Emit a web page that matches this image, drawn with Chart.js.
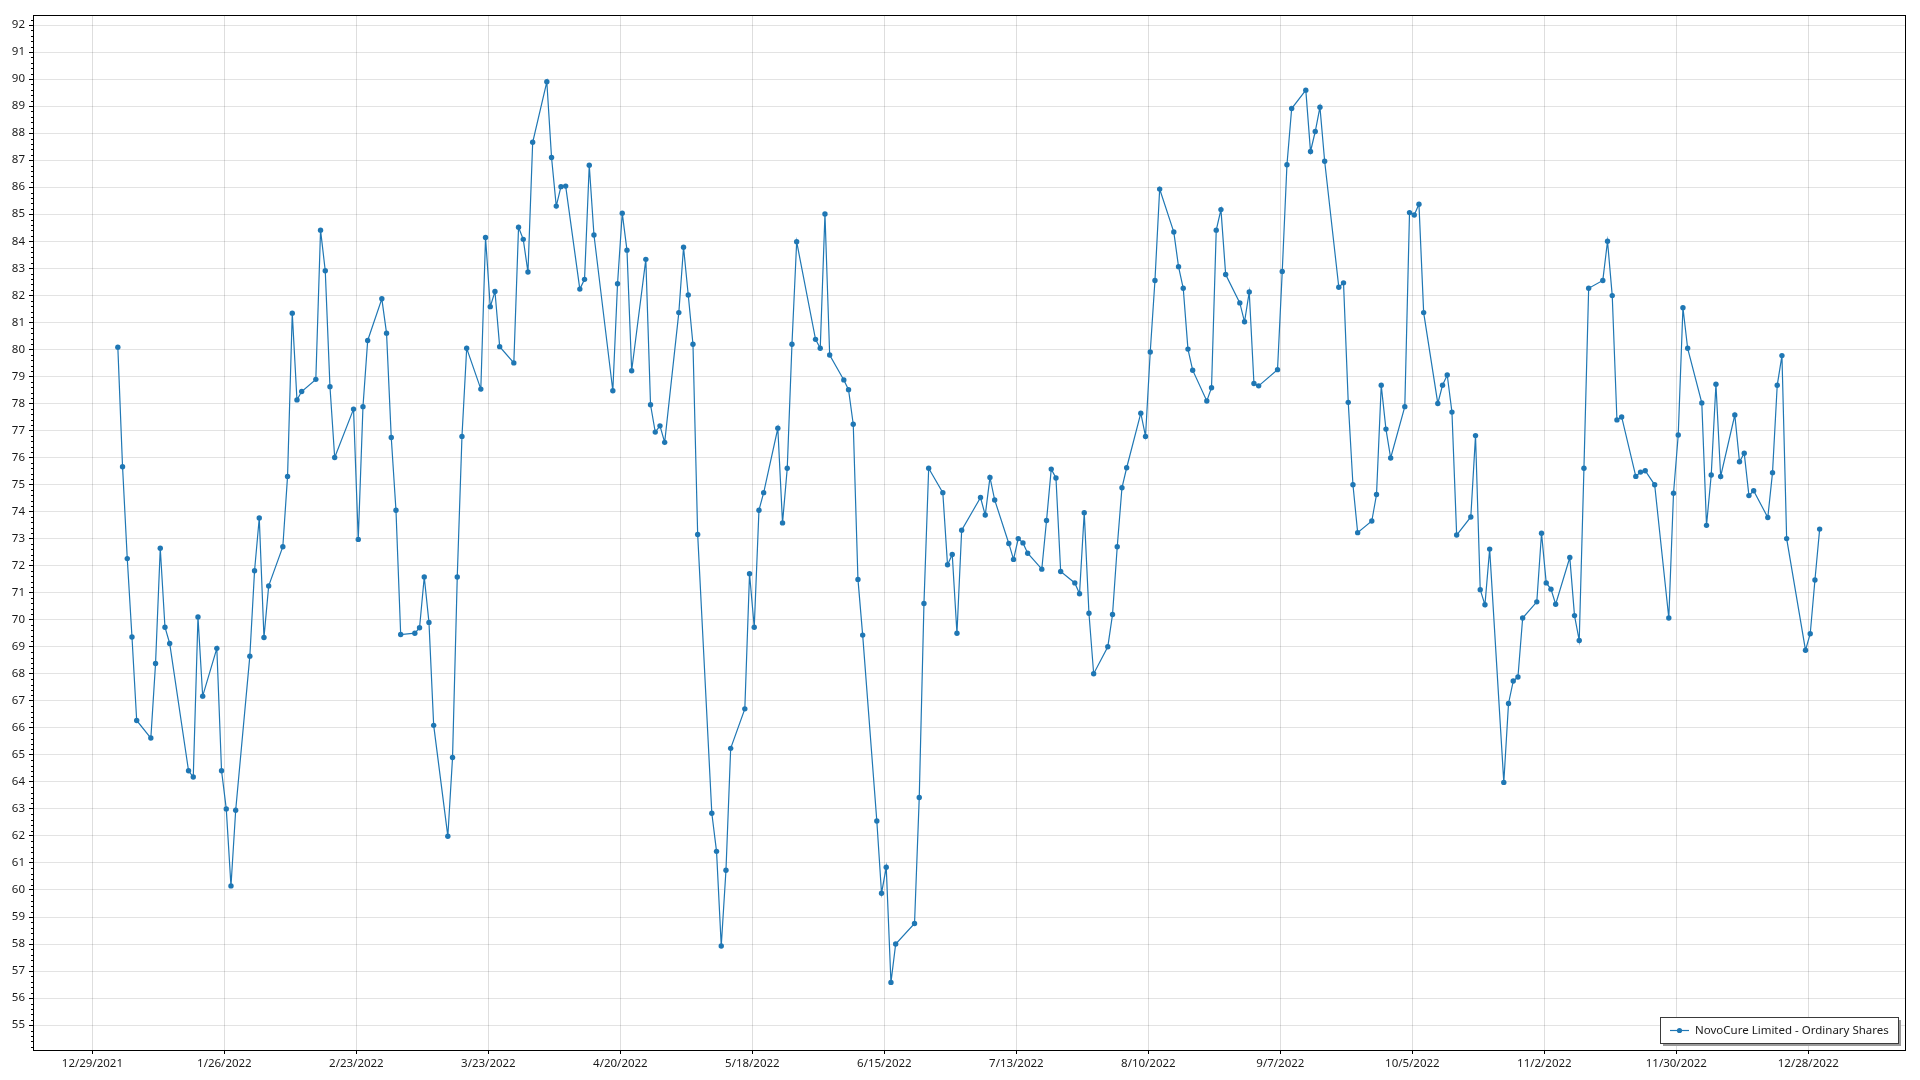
<!DOCTYPE html>
<html>
<head>
<meta charset="utf-8">
<title>NovoCure Limited - Ordinary Shares</title>
<script src="https://cdn.jsdelivr.net/npm/chart.js@4.4.1/dist/chart.umd.min.js"></script>
<style>
  html, body { margin: 0; padding: 0; background: #fff; }
  canvas { display: block; }
</style>
</head>
<body>
<canvas id="chart" width="1920" height="1080"></canvas>
<script>
const seriesLabel = "NovoCure Limited - Ordinary Shares";

// trading days, 2022
const dates = [
  "1/3/2022","1/4/2022","1/5/2022","1/6/2022","1/7/2022","1/10/2022","1/11/2022","1/12/2022","1/13/2022","1/14/2022",
  "1/18/2022","1/19/2022","1/20/2022","1/21/2022","1/24/2022","1/25/2022","1/26/2022","1/27/2022","1/28/2022","1/31/2022",
  "2/1/2022","2/2/2022","2/3/2022","2/4/2022","2/7/2022","2/8/2022","2/9/2022","2/10/2022","2/11/2022","2/14/2022",
  "2/15/2022","2/16/2022","2/17/2022","2/18/2022","2/22/2022","2/23/2022","2/24/2022","2/25/2022","2/28/2022",
  "3/1/2022","3/2/2022","3/3/2022","3/4/2022","3/7/2022","3/8/2022","3/9/2022","3/10/2022","3/11/2022","3/14/2022",
  "3/15/2022","3/16/2022","3/17/2022","3/18/2022","3/21/2022","3/22/2022","3/23/2022","3/24/2022","3/25/2022","3/28/2022",
  "3/29/2022","3/30/2022","3/31/2022",
  "4/1/2022","4/4/2022","4/5/2022","4/6/2022","4/7/2022","4/8/2022","4/11/2022","4/12/2022","4/13/2022","4/14/2022",
  "4/18/2022","4/19/2022","4/20/2022","4/21/2022","4/22/2022","4/25/2022","4/26/2022","4/27/2022","4/28/2022","4/29/2022",
  "5/2/2022","5/3/2022","5/4/2022","5/5/2022","5/6/2022","5/9/2022","5/10/2022","5/11/2022","5/12/2022","5/13/2022",
  "5/16/2022","5/17/2022","5/18/2022","5/19/2022","5/20/2022","5/23/2022","5/24/2022","5/25/2022","5/26/2022","5/27/2022",
  "5/31/2022",
  "6/1/2022","6/2/2022","6/3/2022","6/6/2022","6/7/2022","6/8/2022","6/9/2022","6/10/2022","6/13/2022","6/14/2022",
  "6/15/2022","6/16/2022","6/17/2022","6/21/2022","6/22/2022","6/23/2022","6/24/2022","6/27/2022","6/28/2022","6/29/2022",
  "6/30/2022",
  "7/1/2022","7/5/2022","7/6/2022","7/7/2022","7/8/2022","7/11/2022","7/12/2022","7/13/2022","7/14/2022","7/15/2022",
  "7/18/2022","7/19/2022","7/20/2022","7/21/2022","7/22/2022","7/25/2022","7/26/2022","7/27/2022","7/28/2022","7/29/2022",
  "8/1/2022","8/2/2022","8/3/2022","8/4/2022","8/5/2022","8/8/2022","8/9/2022","8/10/2022","8/11/2022","8/12/2022",
  "8/15/2022","8/16/2022","8/17/2022","8/18/2022","8/19/2022","8/22/2022","8/23/2022","8/24/2022","8/25/2022","8/26/2022",
  "8/29/2022","8/30/2022","8/31/2022",
  "9/1/2022","9/2/2022","9/6/2022","9/7/2022","9/8/2022","9/9/2022","9/12/2022","9/13/2022","9/14/2022","9/15/2022",
  "9/16/2022","9/19/2022","9/20/2022","9/21/2022","9/22/2022","9/23/2022","9/26/2022","9/27/2022","9/28/2022","9/29/2022",
  "9/30/2022",
  "10/3/2022","10/4/2022","10/5/2022","10/6/2022","10/7/2022","10/10/2022","10/11/2022","10/12/2022","10/13/2022","10/14/2022",
  "10/17/2022","10/18/2022","10/19/2022","10/20/2022","10/21/2022","10/24/2022","10/25/2022","10/26/2022","10/27/2022","10/28/2022",
  "10/31/2022",
  "11/1/2022","11/2/2022","11/3/2022","11/4/2022","11/7/2022","11/8/2022","11/9/2022","11/10/2022","11/11/2022","11/14/2022",
  "11/15/2022","11/16/2022","11/17/2022","11/18/2022","11/21/2022","11/22/2022","11/23/2022","11/25/2022","11/28/2022","11/29/2022",
  "11/30/2022",
  "12/1/2022","12/2/2022","12/5/2022","12/6/2022","12/7/2022","12/8/2022","12/9/2022","12/12/2022","12/13/2022","12/14/2022",
  "12/15/2022","12/16/2022","12/19/2022","12/20/2022","12/21/2022","12/22/2022","12/23/2022","12/27/2022","12/28/2022","12/29/2022",
  "12/30/2022"
];

const closes = [
  80.08,75.66,72.26,69.36,66.27,65.62,68.38,72.64,69.72,69.12,
  64.41,64.18,70.10,67.17,68.94,64.41,63.00,60.15,62.95,68.65,
  71.81,73.76,69.34,71.25,72.70,75.30,81.34,78.13,78.44,78.89,
  84.41,82.91,78.62,76.00,77.79,72.97,77.88,80.33,81.87,
  80.60,76.74,74.05,69.45,69.50,69.70,71.58,69.90,66.09,61.99,
  64.90,71.58,76.78,80.04,78.53,84.14,81.58,82.14,80.10,79.50,
  84.52,84.07,82.86,
  87.66,89.90,87.10,85.30,86.02,86.04,82.23,82.59,86.81,84.23,
  78.47,82.43,85.04,83.67,79.21,83.33,77.95,76.94,77.17,76.56,
  81.36,83.78,82.01,80.19,73.15,62.84,61.43,57.93,60.73,65.24,
  66.70,71.70,69.72,74.05,74.70,77.08,73.58,75.60,80.19,83.98,
  80.37,
  80.04,85.01,79.79,78.87,78.51,77.23,71.49,69.43,62.55,59.88,
  60.84,56.58,58.00,58.76,63.42,70.60,75.60,74.70,72.03,72.41,
  69.50,
  73.31,74.52,73.87,75.26,74.43,72.82,72.23,73.00,72.84,72.46,
  71.87,73.67,75.57,75.24,71.78,71.36,70.96,73.96,70.24,68.00,
  69.00,70.19,72.70,74.88,75.62,77.64,76.78,79.90,82.55,85.93,
  84.34,83.06,82.26,80.01,79.23,78.09,78.58,84.41,85.17,82.77,
  81.72,81.02,82.12,
  78.74,78.65,79.25,82.88,86.83,88.91,89.59,87.32,88.06,88.96,
  86.96,82.30,82.46,78.04,74.99,73.22,73.65,74.63,78.67,77.05,
  75.98,
  77.88,85.06,84.97,85.37,81.36,78.00,78.67,79.05,77.68,73.13,
  73.80,76.81,71.11,70.55,72.61,63.98,66.90,67.73,67.88,70.06,
  70.66,
  73.20,71.36,71.13,70.57,72.30,70.15,69.23,75.60,82.26,82.55,
  84.00,81.99,77.39,77.50,75.30,75.46,75.51,74.99,70.06,74.68,
  76.83,
  81.54,80.04,78.02,73.49,75.35,78.71,75.30,77.57,75.84,76.16,
  74.59,74.77,73.78,75.44,78.67,79.77,73.00,68.87,69.48,71.47,
  73.35
];

// axis setup
const axisOrigin = "12/29/2021";   // first x tick
const tickStepDays = 28;
const xRangeDays = [-12.6, 384.5];
const yRange = [54.08, 92.37];
const sessionHour = 9.5;

const DAY = 86400000;
function parseDate(s) {
  const [m, d, y] = s.split("/").map(Number);
  return Date.UTC(y, m - 1, d);
}
const originMs = parseDate(axisOrigin);
function formatDay(n) {
  const dt = new Date(originMs + Math.round(n) * DAY);
  return (dt.getUTCMonth() + 1) + "/" + dt.getUTCDate() + "/" + dt.getUTCFullYear();
}

const points = dates.map((s, i) => ({
  x: (parseDate(s) - originMs) / DAY + sessionHour / 24,
  y: closes[i],
}));

const lineColour = "#1f77b4";
const textColour = "#1a1a1a";
const fontFamily = '"Noto Sans", "Open Sans", sans-serif';

// black frame round the plot area + small minor ticks on the y axis
const plotFrame = {
  id: "plotFrame",
  afterDraw(chart) {
    const { ctx, chartArea: a } = chart;
    const y = chart.scales.y;
    ctx.save();
    ctx.strokeStyle = "#000";
    ctx.lineWidth = 1;
    ctx.strokeRect(Math.round(a.left) + 0.5, Math.round(a.top) + 0.5,
      Math.round(a.right - a.left), Math.round(a.bottom - a.top));
    ctx.beginPath();
    for (let v = Math.ceil(y.min * 5) / 5; v <= y.max; v += 0.2) {
      if (Math.abs(v - Math.round(v)) < 0.01) continue;
      const py = Math.round(y.getPixelForValue(v)) + 0.5;
      ctx.moveTo(a.left - 2, py);
      ctx.lineTo(a.left, py);
    }
    ctx.stroke();
    ctx.restore();
  },
};

// legend drawn inside the plot, bottom right
const insideLegend = {
  id: "insideLegend",
  afterDraw(chart) {
    const { ctx, chartArea: a } = chart;
    const ds = chart.data.datasets[0];
    ctx.save();
    ctx.font = "11.5px " + fontFamily;
    const tw = ctx.measureText(ds.label).width;
    const w = Math.round(tw + 44), h = 26;
    const x = Math.round(a.right - 7 - w), y = Math.round(a.bottom - 7 - h);
    ctx.fillStyle = "#9a9a9a";
    ctx.fillRect(x + 3, y + 3, w, h);
    ctx.fillStyle = "#fff";
    ctx.fillRect(x, y, w, h);
    ctx.strokeStyle = "#3a3a3a";
    ctx.lineWidth = 1;
    ctx.strokeRect(x + 0.5, y + 0.5, w, h);
    const my = y + h / 2 + 0.5;
    ctx.strokeStyle = ds.borderColor;
    ctx.lineWidth = 1.2;
    ctx.beginPath();
    ctx.moveTo(x + 10, my);
    ctx.lineTo(x + 29, my);
    ctx.stroke();
    ctx.fillStyle = ds.borderColor;
    ctx.beginPath();
    ctx.arc(x + 19.5, my, 2.6, 0, Math.PI * 2);
    ctx.fill();
    ctx.fillStyle = textColour;
    ctx.textBaseline = "middle";
    ctx.fillText(ds.label, x + 35, my);
    ctx.restore();
  },
};

new Chart(document.getElementById("chart"), {
  type: "line",
  data: {
    datasets: [{
      label: seriesLabel,
      data: points,
      borderColor: lineColour,
      backgroundColor: lineColour,
      borderWidth: 1.2,
      pointRadius: 2.7,
      pointBorderWidth: 0,
      pointBackgroundColor: lineColour,
      fill: false,
      tension: 0,
    }],
  },
  options: {
    responsive: false,
    animation: false,
    layout: { padding: { left: 0, top: 15, right: 15, bottom: 0 } },
    plugins: {
      legend: { display: false },
      tooltip: { enabled: false },
    },
    scales: {
      x: {
        type: "linear",
        min: xRangeDays[0],
        max: xRangeDays[1],
        afterBuildTicks(scale) {
          const t = [];
          for (let d = 0; d <= scale.max; d += tickStepDays) t.push({ value: d });
          scale.ticks = t;
        },
        afterFit(scale) { scale.height = 30; },
        grid: { color: "rgba(0,0,0,0.13)", tickColor: "#000", tickLength: 4 },
        border: { color: "#000" },
        ticks: {
          maxRotation: 0,
          padding: 3,
          color: textColour,
          font: { family: fontFamily, size: 11.5 },
          callback: (v) => formatDay(v),
        },
      },
      y: {
        min: yRange[0],
        max: yRange[1],
        afterFit(scale) { scale.width = 33; },
        grid: { color: "rgba(0,0,0,0.11)", tickColor: "#000", tickLength: 4 },
        border: { color: "#000" },
        ticks: {
          stepSize: 1,
          includeBounds: false,
          padding: 4,
          color: textColour,
          font: { family: fontFamily, size: 11.5 },
        },
      },
    },
  },
  plugins: [plotFrame, insideLegend],
});
</script>
</body>
</html>
